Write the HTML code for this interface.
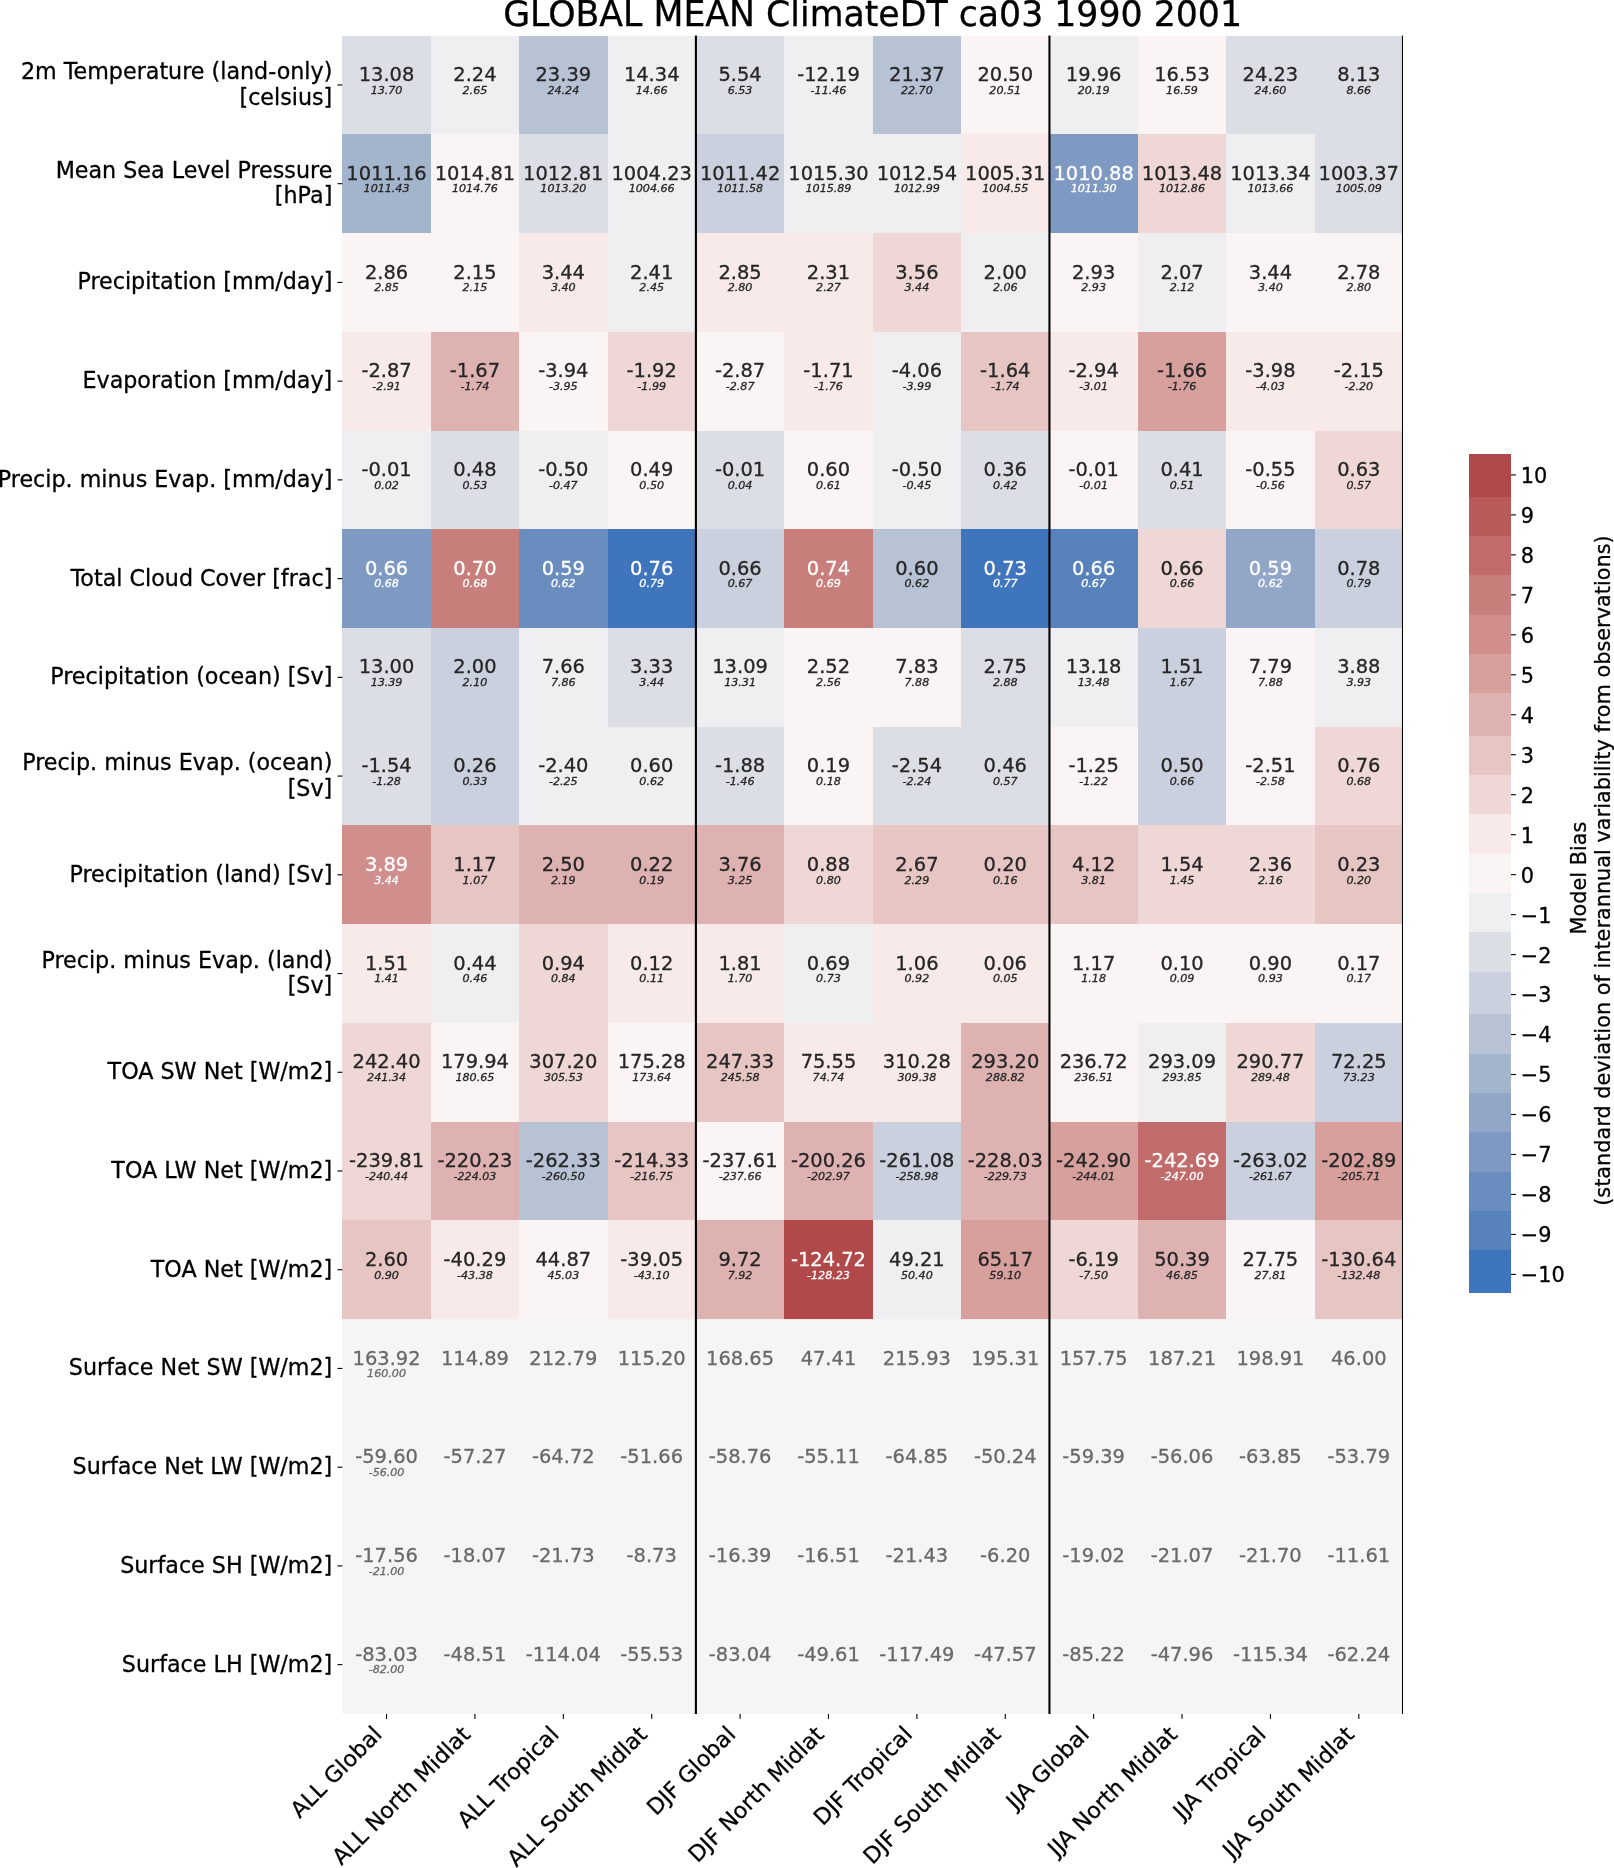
<!DOCTYPE html>
<html lang="en"><head><meta charset="utf-8"><title>GLOBAL MEAN ClimateDT ca03 1990 2001</title>
<style>html,body{margin:0;padding:0;background:#fff}body{width:1614px;height:1868px;overflow:hidden}svg{display:block;will-change:transform}text{font-family:"DejaVu Sans","Liberation Sans",sans-serif}.m{font-size:19.44px;text-anchor:middle}.o{font-size:11.11px;font-style:italic;text-anchor:middle}.d{fill:#262626;stroke:#262626}.w{fill:#fff;stroke:#fff}.g{fill:#696969;stroke:#696969}text{stroke-width:0.30px;stroke-linejoin:round}.yl,.xl,.cb,.cl,.t{stroke:#000}.yl{font-size:22.22px;text-anchor:end;fill:#000}.xl{font-size:22.22px;text-anchor:end;fill:#000}.cb{font-size:20.83px;fill:#000}.cl{font-size:20.83px;fill:#000;text-anchor:middle}.t{font-size:34.72px;text-anchor:middle;fill:#000}</style></head><body>
<svg width="1614" height="1868" viewBox="0 0 1614 1868">
<rect width="1614" height="1868" fill="#fff"/>
<rect x="342.35" y="35.60" width="1060.65" height="1678.40" fill="#f5f5f5"/>
<g shape-rendering="crispEdges">
<rect x="342.35" y="35.60" width="88.89" height="99.23" fill="#dcdee6"/>
<rect x="430.74" y="35.60" width="88.89" height="99.23" fill="#efeef1"/>
<rect x="519.12" y="35.60" width="88.89" height="99.23" fill="#b7c2d5"/>
<rect x="607.51" y="35.60" width="88.89" height="99.23" fill="#efeef1"/>
<rect x="695.90" y="35.60" width="88.89" height="99.23" fill="#dcdee6"/>
<rect x="784.29" y="35.60" width="88.89" height="99.23" fill="#efeef1"/>
<rect x="872.68" y="35.60" width="88.89" height="99.23" fill="#b7c2d5"/>
<rect x="961.06" y="35.60" width="88.89" height="99.23" fill="#faf5f4"/>
<rect x="1049.45" y="35.60" width="88.89" height="99.23" fill="#efeef1"/>
<rect x="1137.84" y="35.60" width="88.89" height="99.23" fill="#faf5f4"/>
<rect x="1226.22" y="35.60" width="88.89" height="99.23" fill="#dcdee6"/>
<rect x="1314.61" y="35.60" width="88.89" height="99.23" fill="#dcdee6"/>
<rect x="342.35" y="134.33" width="88.89" height="99.23" fill="#a3b4cd"/>
<rect x="430.74" y="134.33" width="88.89" height="99.23" fill="#faf5f4"/>
<rect x="519.12" y="134.33" width="88.89" height="99.23" fill="#dcdee6"/>
<rect x="607.51" y="134.33" width="88.89" height="99.23" fill="#efeef1"/>
<rect x="695.90" y="134.33" width="88.89" height="99.23" fill="#cad0dd"/>
<rect x="784.29" y="134.33" width="88.89" height="99.23" fill="#efeef1"/>
<rect x="872.68" y="134.33" width="88.89" height="99.23" fill="#efeef1"/>
<rect x="961.06" y="134.33" width="88.89" height="99.23" fill="#f7eae8"/>
<rect x="1049.45" y="134.33" width="88.89" height="99.23" fill="#7e9ac2"/>
<rect x="1137.84" y="134.33" width="88.89" height="99.23" fill="#eed7d5"/>
<rect x="1226.22" y="134.33" width="88.89" height="99.23" fill="#efeef1"/>
<rect x="1314.61" y="134.33" width="88.89" height="99.23" fill="#dcdee6"/>
<rect x="342.35" y="233.06" width="88.89" height="99.23" fill="#faf5f4"/>
<rect x="430.74" y="233.06" width="88.89" height="99.23" fill="#faf5f4"/>
<rect x="519.12" y="233.06" width="88.89" height="99.23" fill="#f7eae8"/>
<rect x="607.51" y="233.06" width="88.89" height="99.23" fill="#efeef1"/>
<rect x="695.90" y="233.06" width="88.89" height="99.23" fill="#f7eae8"/>
<rect x="784.29" y="233.06" width="88.89" height="99.23" fill="#f7eae8"/>
<rect x="872.68" y="233.06" width="88.89" height="99.23" fill="#eed7d5"/>
<rect x="961.06" y="233.06" width="88.89" height="99.23" fill="#efeef1"/>
<rect x="1049.45" y="233.06" width="88.89" height="99.23" fill="#faf5f4"/>
<rect x="1137.84" y="233.06" width="88.89" height="99.23" fill="#efeef1"/>
<rect x="1226.22" y="233.06" width="88.89" height="99.23" fill="#faf5f4"/>
<rect x="1314.61" y="233.06" width="88.89" height="99.23" fill="#faf5f4"/>
<rect x="342.35" y="331.79" width="88.89" height="99.23" fill="#f7eae8"/>
<rect x="430.74" y="331.79" width="88.89" height="99.23" fill="#deb2b0"/>
<rect x="519.12" y="331.79" width="88.89" height="99.23" fill="#faf5f4"/>
<rect x="607.51" y="331.79" width="88.89" height="99.23" fill="#eed7d5"/>
<rect x="695.90" y="331.79" width="88.89" height="99.23" fill="#faf5f4"/>
<rect x="784.29" y="331.79" width="88.89" height="99.23" fill="#f7eae8"/>
<rect x="872.68" y="331.79" width="88.89" height="99.23" fill="#efeef1"/>
<rect x="961.06" y="331.79" width="88.89" height="99.23" fill="#e6c5c3"/>
<rect x="1049.45" y="331.79" width="88.89" height="99.23" fill="#f7eae8"/>
<rect x="1137.84" y="331.79" width="88.89" height="99.23" fill="#d7a09d"/>
<rect x="1226.22" y="331.79" width="88.89" height="99.23" fill="#f7eae8"/>
<rect x="1314.61" y="331.79" width="88.89" height="99.23" fill="#f7eae8"/>
<rect x="342.35" y="430.52" width="88.89" height="99.23" fill="#efeef1"/>
<rect x="430.74" y="430.52" width="88.89" height="99.23" fill="#dcdee6"/>
<rect x="519.12" y="430.52" width="88.89" height="99.23" fill="#efeef1"/>
<rect x="607.51" y="430.52" width="88.89" height="99.23" fill="#faf5f4"/>
<rect x="695.90" y="430.52" width="88.89" height="99.23" fill="#dcdee6"/>
<rect x="784.29" y="430.52" width="88.89" height="99.23" fill="#faf5f4"/>
<rect x="872.68" y="430.52" width="88.89" height="99.23" fill="#efeef1"/>
<rect x="961.06" y="430.52" width="88.89" height="99.23" fill="#dcdee6"/>
<rect x="1049.45" y="430.52" width="88.89" height="99.23" fill="#faf5f4"/>
<rect x="1137.84" y="430.52" width="88.89" height="99.23" fill="#dcdee6"/>
<rect x="1226.22" y="430.52" width="88.89" height="99.23" fill="#faf5f4"/>
<rect x="1314.61" y="430.52" width="88.89" height="99.23" fill="#eed7d5"/>
<rect x="342.35" y="529.25" width="88.89" height="99.23" fill="#7e9ac2"/>
<rect x="430.74" y="529.25" width="88.89" height="99.23" fill="#c87e7b"/>
<rect x="519.12" y="529.25" width="88.89" height="99.23" fill="#6a8dbf"/>
<rect x="607.51" y="529.25" width="88.89" height="99.23" fill="#3f75bc"/>
<rect x="695.90" y="529.25" width="88.89" height="99.23" fill="#cad0dd"/>
<rect x="784.29" y="529.25" width="88.89" height="99.23" fill="#c87e7b"/>
<rect x="872.68" y="529.25" width="88.89" height="99.23" fill="#b7c2d5"/>
<rect x="961.06" y="529.25" width="88.89" height="99.23" fill="#3f75bc"/>
<rect x="1049.45" y="529.25" width="88.89" height="99.23" fill="#5782bc"/>
<rect x="1137.84" y="529.25" width="88.89" height="99.23" fill="#eed7d5"/>
<rect x="1226.22" y="529.25" width="88.89" height="99.23" fill="#92a7c8"/>
<rect x="1314.61" y="529.25" width="88.89" height="99.23" fill="#cad0dd"/>
<rect x="342.35" y="627.98" width="88.89" height="99.23" fill="#dcdee6"/>
<rect x="430.74" y="627.98" width="88.89" height="99.23" fill="#cad0dd"/>
<rect x="519.12" y="627.98" width="88.89" height="99.23" fill="#efeef1"/>
<rect x="607.51" y="627.98" width="88.89" height="99.23" fill="#dcdee6"/>
<rect x="695.90" y="627.98" width="88.89" height="99.23" fill="#efeef1"/>
<rect x="784.29" y="627.98" width="88.89" height="99.23" fill="#faf5f4"/>
<rect x="872.68" y="627.98" width="88.89" height="99.23" fill="#faf5f4"/>
<rect x="961.06" y="627.98" width="88.89" height="99.23" fill="#dcdee6"/>
<rect x="1049.45" y="627.98" width="88.89" height="99.23" fill="#efeef1"/>
<rect x="1137.84" y="627.98" width="88.89" height="99.23" fill="#cad0dd"/>
<rect x="1226.22" y="627.98" width="88.89" height="99.23" fill="#faf5f4"/>
<rect x="1314.61" y="627.98" width="88.89" height="99.23" fill="#efeef1"/>
<rect x="342.35" y="726.71" width="88.89" height="99.23" fill="#dcdee6"/>
<rect x="430.74" y="726.71" width="88.89" height="99.23" fill="#cad0dd"/>
<rect x="519.12" y="726.71" width="88.89" height="99.23" fill="#efeef1"/>
<rect x="607.51" y="726.71" width="88.89" height="99.23" fill="#efeef1"/>
<rect x="695.90" y="726.71" width="88.89" height="99.23" fill="#dcdee6"/>
<rect x="784.29" y="726.71" width="88.89" height="99.23" fill="#faf5f4"/>
<rect x="872.68" y="726.71" width="88.89" height="99.23" fill="#dcdee6"/>
<rect x="961.06" y="726.71" width="88.89" height="99.23" fill="#dcdee6"/>
<rect x="1049.45" y="726.71" width="88.89" height="99.23" fill="#faf5f4"/>
<rect x="1137.84" y="726.71" width="88.89" height="99.23" fill="#cad0dd"/>
<rect x="1226.22" y="726.71" width="88.89" height="99.23" fill="#faf5f4"/>
<rect x="1314.61" y="726.71" width="88.89" height="99.23" fill="#eed7d5"/>
<rect x="342.35" y="825.44" width="88.89" height="99.23" fill="#d08f8d"/>
<rect x="430.74" y="825.44" width="88.89" height="99.23" fill="#e6c5c3"/>
<rect x="519.12" y="825.44" width="88.89" height="99.23" fill="#deb2b0"/>
<rect x="607.51" y="825.44" width="88.89" height="99.23" fill="#deb2b0"/>
<rect x="695.90" y="825.44" width="88.89" height="99.23" fill="#deb2b0"/>
<rect x="784.29" y="825.44" width="88.89" height="99.23" fill="#eed7d5"/>
<rect x="872.68" y="825.44" width="88.89" height="99.23" fill="#e6c5c3"/>
<rect x="961.06" y="825.44" width="88.89" height="99.23" fill="#e6c5c3"/>
<rect x="1049.45" y="825.44" width="88.89" height="99.23" fill="#e6c5c3"/>
<rect x="1137.84" y="825.44" width="88.89" height="99.23" fill="#eed7d5"/>
<rect x="1226.22" y="825.44" width="88.89" height="99.23" fill="#eed7d5"/>
<rect x="1314.61" y="825.44" width="88.89" height="99.23" fill="#e6c5c3"/>
<rect x="342.35" y="924.16" width="88.89" height="99.23" fill="#f7eae8"/>
<rect x="430.74" y="924.16" width="88.89" height="99.23" fill="#efeef1"/>
<rect x="519.12" y="924.16" width="88.89" height="99.23" fill="#eed7d5"/>
<rect x="607.51" y="924.16" width="88.89" height="99.23" fill="#f7eae8"/>
<rect x="695.90" y="924.16" width="88.89" height="99.23" fill="#f7eae8"/>
<rect x="784.29" y="924.16" width="88.89" height="99.23" fill="#efeef1"/>
<rect x="872.68" y="924.16" width="88.89" height="99.23" fill="#f7eae8"/>
<rect x="961.06" y="924.16" width="88.89" height="99.23" fill="#f7eae8"/>
<rect x="1049.45" y="924.16" width="88.89" height="99.23" fill="#faf5f4"/>
<rect x="1137.84" y="924.16" width="88.89" height="99.23" fill="#faf5f4"/>
<rect x="1226.22" y="924.16" width="88.89" height="99.23" fill="#faf5f4"/>
<rect x="1314.61" y="924.16" width="88.89" height="99.23" fill="#faf5f4"/>
<rect x="342.35" y="1022.89" width="88.89" height="99.23" fill="#eed7d5"/>
<rect x="430.74" y="1022.89" width="88.89" height="99.23" fill="#faf5f4"/>
<rect x="519.12" y="1022.89" width="88.89" height="99.23" fill="#eed7d5"/>
<rect x="607.51" y="1022.89" width="88.89" height="99.23" fill="#faf5f4"/>
<rect x="695.90" y="1022.89" width="88.89" height="99.23" fill="#e6c5c3"/>
<rect x="784.29" y="1022.89" width="88.89" height="99.23" fill="#f7eae8"/>
<rect x="872.68" y="1022.89" width="88.89" height="99.23" fill="#f7eae8"/>
<rect x="961.06" y="1022.89" width="88.89" height="99.23" fill="#deb2b0"/>
<rect x="1049.45" y="1022.89" width="88.89" height="99.23" fill="#faf5f4"/>
<rect x="1137.84" y="1022.89" width="88.89" height="99.23" fill="#efeef1"/>
<rect x="1226.22" y="1022.89" width="88.89" height="99.23" fill="#eed7d5"/>
<rect x="1314.61" y="1022.89" width="88.89" height="99.23" fill="#cad0dd"/>
<rect x="342.35" y="1121.62" width="88.89" height="99.23" fill="#eed7d5"/>
<rect x="430.74" y="1121.62" width="88.89" height="99.23" fill="#deb2b0"/>
<rect x="519.12" y="1121.62" width="88.89" height="99.23" fill="#b7c2d5"/>
<rect x="607.51" y="1121.62" width="88.89" height="99.23" fill="#e6c5c3"/>
<rect x="695.90" y="1121.62" width="88.89" height="99.23" fill="#faf5f4"/>
<rect x="784.29" y="1121.62" width="88.89" height="99.23" fill="#deb2b0"/>
<rect x="872.68" y="1121.62" width="88.89" height="99.23" fill="#cad0dd"/>
<rect x="961.06" y="1121.62" width="88.89" height="99.23" fill="#deb2b0"/>
<rect x="1049.45" y="1121.62" width="88.89" height="99.23" fill="#d7a09d"/>
<rect x="1137.84" y="1121.62" width="88.89" height="99.23" fill="#c16c6a"/>
<rect x="1226.22" y="1121.62" width="88.89" height="99.23" fill="#cad0dd"/>
<rect x="1314.61" y="1121.62" width="88.89" height="99.23" fill="#d7a09d"/>
<rect x="342.35" y="1220.35" width="88.89" height="99.23" fill="#e6c5c3"/>
<rect x="430.74" y="1220.35" width="88.89" height="99.23" fill="#f7eae8"/>
<rect x="519.12" y="1220.35" width="88.89" height="99.23" fill="#faf5f4"/>
<rect x="607.51" y="1220.35" width="88.89" height="99.23" fill="#f7eae8"/>
<rect x="695.90" y="1220.35" width="88.89" height="99.23" fill="#deb2b0"/>
<rect x="784.29" y="1220.35" width="88.89" height="99.23" fill="#b1494a"/>
<rect x="872.68" y="1220.35" width="88.89" height="99.23" fill="#efeef1"/>
<rect x="961.06" y="1220.35" width="88.89" height="99.23" fill="#d7a09d"/>
<rect x="1049.45" y="1220.35" width="88.89" height="99.23" fill="#eed7d5"/>
<rect x="1137.84" y="1220.35" width="88.89" height="99.23" fill="#deb2b0"/>
<rect x="1226.22" y="1220.35" width="88.89" height="99.23" fill="#faf5f4"/>
<rect x="1314.61" y="1220.35" width="88.89" height="99.23" fill="#e6c5c3"/>
</g>
<rect x="342.35" y="1319.08" width="1060.65" height="1.00" fill="#f5f5f5"/>
<rect x="1403.00" y="34.60" width="3" height="1680.40" fill="#fff"/>
<text class="m d" x="386.54" y="81.06">13.08</text>
<text class="o d" x="386.54" y="93.76">13.70</text>
<text class="m d" x="474.93" y="81.06">2.24</text>
<text class="o d" x="474.93" y="93.76">2.65</text>
<text class="m d" x="563.32" y="81.06">23.39</text>
<text class="o d" x="563.32" y="93.76">24.24</text>
<text class="m d" x="651.71" y="81.06">14.34</text>
<text class="o d" x="651.71" y="93.76">14.66</text>
<text class="m d" x="740.09" y="81.06">5.54</text>
<text class="o d" x="740.09" y="93.76">6.53</text>
<text class="m d" x="828.48" y="81.06">-12.19</text>
<text class="o d" x="828.48" y="93.76">-11.46</text>
<text class="m d" x="916.87" y="81.06">21.37</text>
<text class="o d" x="916.87" y="93.76">22.70</text>
<text class="m d" x="1005.26" y="81.06">20.50</text>
<text class="o d" x="1005.26" y="93.76">20.51</text>
<text class="m d" x="1093.64" y="81.06">19.96</text>
<text class="o d" x="1093.64" y="93.76">20.19</text>
<text class="m d" x="1182.03" y="81.06">16.53</text>
<text class="o d" x="1182.03" y="93.76">16.59</text>
<text class="m d" x="1270.42" y="81.06">24.23</text>
<text class="o d" x="1270.42" y="93.76">24.60</text>
<text class="m d" x="1358.81" y="81.06">8.13</text>
<text class="o d" x="1358.81" y="93.76">8.66</text>
<text class="m d" x="386.54" y="179.79">1011.16</text>
<text class="o d" x="386.54" y="192.49">1011.43</text>
<text class="m d" x="474.93" y="179.79">1014.81</text>
<text class="o d" x="474.93" y="192.49">1014.76</text>
<text class="m d" x="563.32" y="179.79">1012.81</text>
<text class="o d" x="563.32" y="192.49">1013.20</text>
<text class="m d" x="651.71" y="179.79">1004.23</text>
<text class="o d" x="651.71" y="192.49">1004.66</text>
<text class="m d" x="740.09" y="179.79">1011.42</text>
<text class="o d" x="740.09" y="192.49">1011.58</text>
<text class="m d" x="828.48" y="179.79">1015.30</text>
<text class="o d" x="828.48" y="192.49">1015.89</text>
<text class="m d" x="916.87" y="179.79">1012.54</text>
<text class="o d" x="916.87" y="192.49">1012.99</text>
<text class="m d" x="1005.26" y="179.79">1005.31</text>
<text class="o d" x="1005.26" y="192.49">1004.55</text>
<text class="m w" x="1093.64" y="179.79">1010.88</text>
<text class="o w" x="1093.64" y="192.49">1011.30</text>
<text class="m d" x="1182.03" y="179.79">1013.48</text>
<text class="o d" x="1182.03" y="192.49">1012.86</text>
<text class="m d" x="1270.42" y="179.79">1013.34</text>
<text class="o d" x="1270.42" y="192.49">1013.66</text>
<text class="m d" x="1358.81" y="179.79">1003.37</text>
<text class="o d" x="1358.81" y="192.49">1005.09</text>
<text class="m d" x="386.54" y="278.52">2.86</text>
<text class="o d" x="386.54" y="291.22">2.85</text>
<text class="m d" x="474.93" y="278.52">2.15</text>
<text class="o d" x="474.93" y="291.22">2.15</text>
<text class="m d" x="563.32" y="278.52">3.44</text>
<text class="o d" x="563.32" y="291.22">3.40</text>
<text class="m d" x="651.71" y="278.52">2.41</text>
<text class="o d" x="651.71" y="291.22">2.45</text>
<text class="m d" x="740.09" y="278.52">2.85</text>
<text class="o d" x="740.09" y="291.22">2.80</text>
<text class="m d" x="828.48" y="278.52">2.31</text>
<text class="o d" x="828.48" y="291.22">2.27</text>
<text class="m d" x="916.87" y="278.52">3.56</text>
<text class="o d" x="916.87" y="291.22">3.44</text>
<text class="m d" x="1005.26" y="278.52">2.00</text>
<text class="o d" x="1005.26" y="291.22">2.06</text>
<text class="m d" x="1093.64" y="278.52">2.93</text>
<text class="o d" x="1093.64" y="291.22">2.93</text>
<text class="m d" x="1182.03" y="278.52">2.07</text>
<text class="o d" x="1182.03" y="291.22">2.12</text>
<text class="m d" x="1270.42" y="278.52">3.44</text>
<text class="o d" x="1270.42" y="291.22">3.40</text>
<text class="m d" x="1358.81" y="278.52">2.78</text>
<text class="o d" x="1358.81" y="291.22">2.80</text>
<text class="m d" x="386.54" y="377.25">-2.87</text>
<text class="o d" x="386.54" y="389.95">-2.91</text>
<text class="m d" x="474.93" y="377.25">-1.67</text>
<text class="o d" x="474.93" y="389.95">-1.74</text>
<text class="m d" x="563.32" y="377.25">-3.94</text>
<text class="o d" x="563.32" y="389.95">-3.95</text>
<text class="m d" x="651.71" y="377.25">-1.92</text>
<text class="o d" x="651.71" y="389.95">-1.99</text>
<text class="m d" x="740.09" y="377.25">-2.87</text>
<text class="o d" x="740.09" y="389.95">-2.87</text>
<text class="m d" x="828.48" y="377.25">-1.71</text>
<text class="o d" x="828.48" y="389.95">-1.76</text>
<text class="m d" x="916.87" y="377.25">-4.06</text>
<text class="o d" x="916.87" y="389.95">-3.99</text>
<text class="m d" x="1005.26" y="377.25">-1.64</text>
<text class="o d" x="1005.26" y="389.95">-1.74</text>
<text class="m d" x="1093.64" y="377.25">-2.94</text>
<text class="o d" x="1093.64" y="389.95">-3.01</text>
<text class="m d" x="1182.03" y="377.25">-1.66</text>
<text class="o d" x="1182.03" y="389.95">-1.76</text>
<text class="m d" x="1270.42" y="377.25">-3.98</text>
<text class="o d" x="1270.42" y="389.95">-4.03</text>
<text class="m d" x="1358.81" y="377.25">-2.15</text>
<text class="o d" x="1358.81" y="389.95">-2.20</text>
<text class="m d" x="386.54" y="475.98">-0.01</text>
<text class="o d" x="386.54" y="488.68">0.02</text>
<text class="m d" x="474.93" y="475.98">0.48</text>
<text class="o d" x="474.93" y="488.68">0.53</text>
<text class="m d" x="563.32" y="475.98">-0.50</text>
<text class="o d" x="563.32" y="488.68">-0.47</text>
<text class="m d" x="651.71" y="475.98">0.49</text>
<text class="o d" x="651.71" y="488.68">0.50</text>
<text class="m d" x="740.09" y="475.98">-0.01</text>
<text class="o d" x="740.09" y="488.68">0.04</text>
<text class="m d" x="828.48" y="475.98">0.60</text>
<text class="o d" x="828.48" y="488.68">0.61</text>
<text class="m d" x="916.87" y="475.98">-0.50</text>
<text class="o d" x="916.87" y="488.68">-0.45</text>
<text class="m d" x="1005.26" y="475.98">0.36</text>
<text class="o d" x="1005.26" y="488.68">0.42</text>
<text class="m d" x="1093.64" y="475.98">-0.01</text>
<text class="o d" x="1093.64" y="488.68">-0.01</text>
<text class="m d" x="1182.03" y="475.98">0.41</text>
<text class="o d" x="1182.03" y="488.68">0.51</text>
<text class="m d" x="1270.42" y="475.98">-0.55</text>
<text class="o d" x="1270.42" y="488.68">-0.56</text>
<text class="m d" x="1358.81" y="475.98">0.63</text>
<text class="o d" x="1358.81" y="488.68">0.57</text>
<text class="m w" x="386.54" y="574.71">0.66</text>
<text class="o w" x="386.54" y="587.41">0.68</text>
<text class="m w" x="474.93" y="574.71">0.70</text>
<text class="o w" x="474.93" y="587.41">0.68</text>
<text class="m w" x="563.32" y="574.71">0.59</text>
<text class="o w" x="563.32" y="587.41">0.62</text>
<text class="m w" x="651.71" y="574.71">0.76</text>
<text class="o w" x="651.71" y="587.41">0.79</text>
<text class="m d" x="740.09" y="574.71">0.66</text>
<text class="o d" x="740.09" y="587.41">0.67</text>
<text class="m w" x="828.48" y="574.71">0.74</text>
<text class="o w" x="828.48" y="587.41">0.69</text>
<text class="m d" x="916.87" y="574.71">0.60</text>
<text class="o d" x="916.87" y="587.41">0.62</text>
<text class="m w" x="1005.26" y="574.71">0.73</text>
<text class="o w" x="1005.26" y="587.41">0.77</text>
<text class="m w" x="1093.64" y="574.71">0.66</text>
<text class="o w" x="1093.64" y="587.41">0.67</text>
<text class="m d" x="1182.03" y="574.71">0.66</text>
<text class="o d" x="1182.03" y="587.41">0.66</text>
<text class="m w" x="1270.42" y="574.71">0.59</text>
<text class="o w" x="1270.42" y="587.41">0.62</text>
<text class="m d" x="1358.81" y="574.71">0.78</text>
<text class="o d" x="1358.81" y="587.41">0.79</text>
<text class="m d" x="386.54" y="673.44">13.00</text>
<text class="o d" x="386.54" y="686.14">13.39</text>
<text class="m d" x="474.93" y="673.44">2.00</text>
<text class="o d" x="474.93" y="686.14">2.10</text>
<text class="m d" x="563.32" y="673.44">7.66</text>
<text class="o d" x="563.32" y="686.14">7.86</text>
<text class="m d" x="651.71" y="673.44">3.33</text>
<text class="o d" x="651.71" y="686.14">3.44</text>
<text class="m d" x="740.09" y="673.44">13.09</text>
<text class="o d" x="740.09" y="686.14">13.31</text>
<text class="m d" x="828.48" y="673.44">2.52</text>
<text class="o d" x="828.48" y="686.14">2.56</text>
<text class="m d" x="916.87" y="673.44">7.83</text>
<text class="o d" x="916.87" y="686.14">7.88</text>
<text class="m d" x="1005.26" y="673.44">2.75</text>
<text class="o d" x="1005.26" y="686.14">2.88</text>
<text class="m d" x="1093.64" y="673.44">13.18</text>
<text class="o d" x="1093.64" y="686.14">13.48</text>
<text class="m d" x="1182.03" y="673.44">1.51</text>
<text class="o d" x="1182.03" y="686.14">1.67</text>
<text class="m d" x="1270.42" y="673.44">7.79</text>
<text class="o d" x="1270.42" y="686.14">7.88</text>
<text class="m d" x="1358.81" y="673.44">3.88</text>
<text class="o d" x="1358.81" y="686.14">3.93</text>
<text class="m d" x="386.54" y="772.17">-1.54</text>
<text class="o d" x="386.54" y="784.87">-1.28</text>
<text class="m d" x="474.93" y="772.17">0.26</text>
<text class="o d" x="474.93" y="784.87">0.33</text>
<text class="m d" x="563.32" y="772.17">-2.40</text>
<text class="o d" x="563.32" y="784.87">-2.25</text>
<text class="m d" x="651.71" y="772.17">0.60</text>
<text class="o d" x="651.71" y="784.87">0.62</text>
<text class="m d" x="740.09" y="772.17">-1.88</text>
<text class="o d" x="740.09" y="784.87">-1.46</text>
<text class="m d" x="828.48" y="772.17">0.19</text>
<text class="o d" x="828.48" y="784.87">0.18</text>
<text class="m d" x="916.87" y="772.17">-2.54</text>
<text class="o d" x="916.87" y="784.87">-2.24</text>
<text class="m d" x="1005.26" y="772.17">0.46</text>
<text class="o d" x="1005.26" y="784.87">0.57</text>
<text class="m d" x="1093.64" y="772.17">-1.25</text>
<text class="o d" x="1093.64" y="784.87">-1.22</text>
<text class="m d" x="1182.03" y="772.17">0.50</text>
<text class="o d" x="1182.03" y="784.87">0.66</text>
<text class="m d" x="1270.42" y="772.17">-2.51</text>
<text class="o d" x="1270.42" y="784.87">-2.58</text>
<text class="m d" x="1358.81" y="772.17">0.76</text>
<text class="o d" x="1358.81" y="784.87">0.68</text>
<text class="m w" x="386.54" y="870.90">3.89</text>
<text class="o w" x="386.54" y="883.60">3.44</text>
<text class="m d" x="474.93" y="870.90">1.17</text>
<text class="o d" x="474.93" y="883.60">1.07</text>
<text class="m d" x="563.32" y="870.90">2.50</text>
<text class="o d" x="563.32" y="883.60">2.19</text>
<text class="m d" x="651.71" y="870.90">0.22</text>
<text class="o d" x="651.71" y="883.60">0.19</text>
<text class="m d" x="740.09" y="870.90">3.76</text>
<text class="o d" x="740.09" y="883.60">3.25</text>
<text class="m d" x="828.48" y="870.90">0.88</text>
<text class="o d" x="828.48" y="883.60">0.80</text>
<text class="m d" x="916.87" y="870.90">2.67</text>
<text class="o d" x="916.87" y="883.60">2.29</text>
<text class="m d" x="1005.26" y="870.90">0.20</text>
<text class="o d" x="1005.26" y="883.60">0.16</text>
<text class="m d" x="1093.64" y="870.90">4.12</text>
<text class="o d" x="1093.64" y="883.60">3.81</text>
<text class="m d" x="1182.03" y="870.90">1.54</text>
<text class="o d" x="1182.03" y="883.60">1.45</text>
<text class="m d" x="1270.42" y="870.90">2.36</text>
<text class="o d" x="1270.42" y="883.60">2.16</text>
<text class="m d" x="1358.81" y="870.90">0.23</text>
<text class="o d" x="1358.81" y="883.60">0.20</text>
<text class="m d" x="386.54" y="969.63">1.51</text>
<text class="o d" x="386.54" y="982.33">1.41</text>
<text class="m d" x="474.93" y="969.63">0.44</text>
<text class="o d" x="474.93" y="982.33">0.46</text>
<text class="m d" x="563.32" y="969.63">0.94</text>
<text class="o d" x="563.32" y="982.33">0.84</text>
<text class="m d" x="651.71" y="969.63">0.12</text>
<text class="o d" x="651.71" y="982.33">0.11</text>
<text class="m d" x="740.09" y="969.63">1.81</text>
<text class="o d" x="740.09" y="982.33">1.70</text>
<text class="m d" x="828.48" y="969.63">0.69</text>
<text class="o d" x="828.48" y="982.33">0.73</text>
<text class="m d" x="916.87" y="969.63">1.06</text>
<text class="o d" x="916.87" y="982.33">0.92</text>
<text class="m d" x="1005.26" y="969.63">0.06</text>
<text class="o d" x="1005.26" y="982.33">0.05</text>
<text class="m d" x="1093.64" y="969.63">1.17</text>
<text class="o d" x="1093.64" y="982.33">1.18</text>
<text class="m d" x="1182.03" y="969.63">0.10</text>
<text class="o d" x="1182.03" y="982.33">0.09</text>
<text class="m d" x="1270.42" y="969.63">0.90</text>
<text class="o d" x="1270.42" y="982.33">0.93</text>
<text class="m d" x="1358.81" y="969.63">0.17</text>
<text class="o d" x="1358.81" y="982.33">0.17</text>
<text class="m d" x="386.54" y="1068.36">242.40</text>
<text class="o d" x="386.54" y="1081.06">241.34</text>
<text class="m d" x="474.93" y="1068.36">179.94</text>
<text class="o d" x="474.93" y="1081.06">180.65</text>
<text class="m d" x="563.32" y="1068.36">307.20</text>
<text class="o d" x="563.32" y="1081.06">305.53</text>
<text class="m d" x="651.71" y="1068.36">175.28</text>
<text class="o d" x="651.71" y="1081.06">173.64</text>
<text class="m d" x="740.09" y="1068.36">247.33</text>
<text class="o d" x="740.09" y="1081.06">245.58</text>
<text class="m d" x="828.48" y="1068.36">75.55</text>
<text class="o d" x="828.48" y="1081.06">74.74</text>
<text class="m d" x="916.87" y="1068.36">310.28</text>
<text class="o d" x="916.87" y="1081.06">309.38</text>
<text class="m d" x="1005.26" y="1068.36">293.20</text>
<text class="o d" x="1005.26" y="1081.06">288.82</text>
<text class="m d" x="1093.64" y="1068.36">236.72</text>
<text class="o d" x="1093.64" y="1081.06">236.51</text>
<text class="m d" x="1182.03" y="1068.36">293.09</text>
<text class="o d" x="1182.03" y="1081.06">293.85</text>
<text class="m d" x="1270.42" y="1068.36">290.77</text>
<text class="o d" x="1270.42" y="1081.06">289.48</text>
<text class="m d" x="1358.81" y="1068.36">72.25</text>
<text class="o d" x="1358.81" y="1081.06">73.23</text>
<text class="m d" x="386.54" y="1167.09">-239.81</text>
<text class="o d" x="386.54" y="1179.79">-240.44</text>
<text class="m d" x="474.93" y="1167.09">-220.23</text>
<text class="o d" x="474.93" y="1179.79">-224.03</text>
<text class="m d" x="563.32" y="1167.09">-262.33</text>
<text class="o d" x="563.32" y="1179.79">-260.50</text>
<text class="m d" x="651.71" y="1167.09">-214.33</text>
<text class="o d" x="651.71" y="1179.79">-216.75</text>
<text class="m d" x="740.09" y="1167.09">-237.61</text>
<text class="o d" x="740.09" y="1179.79">-237.66</text>
<text class="m d" x="828.48" y="1167.09">-200.26</text>
<text class="o d" x="828.48" y="1179.79">-202.97</text>
<text class="m d" x="916.87" y="1167.09">-261.08</text>
<text class="o d" x="916.87" y="1179.79">-258.98</text>
<text class="m d" x="1005.26" y="1167.09">-228.03</text>
<text class="o d" x="1005.26" y="1179.79">-229.73</text>
<text class="m d" x="1093.64" y="1167.09">-242.90</text>
<text class="o d" x="1093.64" y="1179.79">-244.01</text>
<text class="m w" x="1182.03" y="1167.09">-242.69</text>
<text class="o w" x="1182.03" y="1179.79">-247.00</text>
<text class="m d" x="1270.42" y="1167.09">-263.02</text>
<text class="o d" x="1270.42" y="1179.79">-261.67</text>
<text class="m d" x="1358.81" y="1167.09">-202.89</text>
<text class="o d" x="1358.81" y="1179.79">-205.71</text>
<text class="m d" x="386.54" y="1265.82">2.60</text>
<text class="o d" x="386.54" y="1278.52">0.90</text>
<text class="m d" x="474.93" y="1265.82">-40.29</text>
<text class="o d" x="474.93" y="1278.52">-43.38</text>
<text class="m d" x="563.32" y="1265.82">44.87</text>
<text class="o d" x="563.32" y="1278.52">45.03</text>
<text class="m d" x="651.71" y="1265.82">-39.05</text>
<text class="o d" x="651.71" y="1278.52">-43.10</text>
<text class="m d" x="740.09" y="1265.82">9.72</text>
<text class="o d" x="740.09" y="1278.52">7.92</text>
<text class="m w" x="828.48" y="1265.82">-124.72</text>
<text class="o w" x="828.48" y="1278.52">-128.23</text>
<text class="m d" x="916.87" y="1265.82">49.21</text>
<text class="o d" x="916.87" y="1278.52">50.40</text>
<text class="m d" x="1005.26" y="1265.82">65.17</text>
<text class="o d" x="1005.26" y="1278.52">59.10</text>
<text class="m d" x="1093.64" y="1265.82">-6.19</text>
<text class="o d" x="1093.64" y="1278.52">-7.50</text>
<text class="m d" x="1182.03" y="1265.82">50.39</text>
<text class="o d" x="1182.03" y="1278.52">46.85</text>
<text class="m d" x="1270.42" y="1265.82">27.75</text>
<text class="o d" x="1270.42" y="1278.52">27.81</text>
<text class="m d" x="1358.81" y="1265.82">-130.64</text>
<text class="o d" x="1358.81" y="1278.52">-132.48</text>
<text class="m g" x="386.54" y="1364.55">163.92</text>
<text class="o g" x="386.54" y="1377.25">160.00</text>
<text class="m g" x="474.93" y="1364.55">114.89</text>
<text class="m g" x="563.32" y="1364.55">212.79</text>
<text class="m g" x="651.71" y="1364.55">115.20</text>
<text class="m g" x="740.09" y="1364.55">168.65</text>
<text class="m g" x="828.48" y="1364.55">47.41</text>
<text class="m g" x="916.87" y="1364.55">215.93</text>
<text class="m g" x="1005.26" y="1364.55">195.31</text>
<text class="m g" x="1093.64" y="1364.55">157.75</text>
<text class="m g" x="1182.03" y="1364.55">187.21</text>
<text class="m g" x="1270.42" y="1364.55">198.91</text>
<text class="m g" x="1358.81" y="1364.55">46.00</text>
<text class="m g" x="386.54" y="1463.28">-59.60</text>
<text class="o g" x="386.54" y="1475.98">-56.00</text>
<text class="m g" x="474.93" y="1463.28">-57.27</text>
<text class="m g" x="563.32" y="1463.28">-64.72</text>
<text class="m g" x="651.71" y="1463.28">-51.66</text>
<text class="m g" x="740.09" y="1463.28">-58.76</text>
<text class="m g" x="828.48" y="1463.28">-55.11</text>
<text class="m g" x="916.87" y="1463.28">-64.85</text>
<text class="m g" x="1005.26" y="1463.28">-50.24</text>
<text class="m g" x="1093.64" y="1463.28">-59.39</text>
<text class="m g" x="1182.03" y="1463.28">-56.06</text>
<text class="m g" x="1270.42" y="1463.28">-63.85</text>
<text class="m g" x="1358.81" y="1463.28">-53.79</text>
<text class="m g" x="386.54" y="1562.01">-17.56</text>
<text class="o g" x="386.54" y="1574.71">-21.00</text>
<text class="m g" x="474.93" y="1562.01">-18.07</text>
<text class="m g" x="563.32" y="1562.01">-21.73</text>
<text class="m g" x="651.71" y="1562.01">-8.73</text>
<text class="m g" x="740.09" y="1562.01">-16.39</text>
<text class="m g" x="828.48" y="1562.01">-16.51</text>
<text class="m g" x="916.87" y="1562.01">-21.43</text>
<text class="m g" x="1005.26" y="1562.01">-6.20</text>
<text class="m g" x="1093.64" y="1562.01">-19.02</text>
<text class="m g" x="1182.03" y="1562.01">-21.07</text>
<text class="m g" x="1270.42" y="1562.01">-21.70</text>
<text class="m g" x="1358.81" y="1562.01">-11.61</text>
<text class="m g" x="386.54" y="1660.74">-83.03</text>
<text class="o g" x="386.54" y="1673.44">-82.00</text>
<text class="m g" x="474.93" y="1660.74">-48.51</text>
<text class="m g" x="563.32" y="1660.74">-114.04</text>
<text class="m g" x="651.71" y="1660.74">-55.53</text>
<text class="m g" x="740.09" y="1660.74">-83.04</text>
<text class="m g" x="828.48" y="1660.74">-49.61</text>
<text class="m g" x="916.87" y="1660.74">-117.49</text>
<text class="m g" x="1005.26" y="1660.74">-47.57</text>
<text class="m g" x="1093.64" y="1660.74">-85.22</text>
<text class="m g" x="1182.03" y="1660.74">-47.96</text>
<text class="m g" x="1270.42" y="1660.74">-115.34</text>
<text class="m g" x="1358.81" y="1660.74">-62.24</text>
<rect x="694.86" y="35.60" width="2.08" height="1678.40" fill="#000"/>
<rect x="1048.41" y="35.60" width="2.08" height="1678.40" fill="#000"/>
<rect x="1401.96" y="35.60" width="1.04" height="1678.40" fill="#000"/>
<rect x="337.49" y="84.41" width="4.86" height="1.11" fill="#000"/>
<text class="yl" x="332.30" y="79.26">2m Temperature (land-only)</text>
<text class="yl" x="332.30" y="104.66">[celsius]</text>
<rect x="337.49" y="183.14" width="4.86" height="1.11" fill="#000"/>
<text class="yl" x="332.30" y="177.99">Mean Sea Level Pressure</text>
<text class="yl" x="332.30" y="203.39">[hPa]</text>
<rect x="337.49" y="281.87" width="4.86" height="1.11" fill="#000"/>
<text class="yl" x="332.30" y="289.42">Precipitation [mm/day]</text>
<rect x="337.49" y="380.60" width="4.86" height="1.11" fill="#000"/>
<text class="yl" x="332.30" y="388.15">Evaporation [mm/day]</text>
<rect x="337.49" y="479.33" width="4.86" height="1.11" fill="#000"/>
<text class="yl" x="332.30" y="486.88">Precip. minus Evap. [mm/day]</text>
<rect x="337.49" y="578.06" width="4.86" height="1.11" fill="#000"/>
<text class="yl" x="332.30" y="585.61">Total Cloud Cover [frac]</text>
<rect x="337.49" y="676.79" width="4.86" height="1.11" fill="#000"/>
<text class="yl" x="332.30" y="684.34">Precipitation (ocean) [Sv]</text>
<rect x="337.49" y="775.52" width="4.86" height="1.11" fill="#000"/>
<text class="yl" x="332.30" y="770.37">Precip. minus Evap. (ocean)</text>
<text class="yl" x="332.30" y="795.77">[Sv]</text>
<rect x="337.49" y="874.25" width="4.86" height="1.11" fill="#000"/>
<text class="yl" x="332.30" y="881.80">Precipitation (land) [Sv]</text>
<rect x="337.49" y="972.98" width="4.86" height="1.11" fill="#000"/>
<text class="yl" x="332.30" y="967.83">Precip. minus Evap. (land)</text>
<text class="yl" x="332.30" y="993.23">[Sv]</text>
<rect x="337.49" y="1071.71" width="4.86" height="1.11" fill="#000"/>
<text class="yl" x="332.30" y="1079.26">TOA SW Net [W/m2]</text>
<rect x="337.49" y="1170.44" width="4.86" height="1.11" fill="#000"/>
<text class="yl" x="332.30" y="1177.99">TOA LW Net [W/m2]</text>
<rect x="337.49" y="1269.17" width="4.86" height="1.11" fill="#000"/>
<text class="yl" x="332.30" y="1276.72">TOA Net [W/m2]</text>
<rect x="337.49" y="1367.90" width="4.86" height="1.11" fill="#000"/>
<text class="yl" x="332.30" y="1375.45">Surface Net SW [W/m2]</text>
<rect x="337.49" y="1466.63" width="4.86" height="1.11" fill="#000"/>
<text class="yl" x="332.30" y="1474.18">Surface Net LW [W/m2]</text>
<rect x="337.49" y="1565.36" width="4.86" height="1.11" fill="#000"/>
<text class="yl" x="332.30" y="1572.91">Surface SH [W/m2]</text>
<rect x="337.49" y="1664.09" width="4.86" height="1.11" fill="#000"/>
<text class="yl" x="332.30" y="1671.64">Surface LH [W/m2]</text>
<rect x="385.99" y="1714.00" width="1.11" height="4.86" fill="#000"/>
<text class="xl" transform="translate(383.24 1735.72) rotate(-45)" x="0" y="0">ALL Global</text>
<rect x="474.38" y="1714.00" width="1.11" height="4.86" fill="#000"/>
<text class="xl" transform="translate(471.63 1735.72) rotate(-45)" x="0" y="0">ALL North Midlat</text>
<rect x="562.77" y="1714.00" width="1.11" height="4.86" fill="#000"/>
<text class="xl" transform="translate(560.02 1735.72) rotate(-45)" x="0" y="0">ALL Tropical</text>
<rect x="651.16" y="1714.00" width="1.11" height="4.86" fill="#000"/>
<text class="xl" transform="translate(648.41 1735.72) rotate(-45)" x="0" y="0">ALL South Midlat</text>
<rect x="739.54" y="1714.00" width="1.11" height="4.86" fill="#000"/>
<text class="xl" transform="translate(736.79 1735.72) rotate(-45)" x="0" y="0">DJF Global</text>
<rect x="827.93" y="1714.00" width="1.11" height="4.86" fill="#000"/>
<text class="xl" transform="translate(825.18 1735.72) rotate(-45)" x="0" y="0">DJF North Midlat</text>
<rect x="916.32" y="1714.00" width="1.11" height="4.86" fill="#000"/>
<text class="xl" transform="translate(913.57 1735.72) rotate(-45)" x="0" y="0">DJF Tropical</text>
<rect x="1004.71" y="1714.00" width="1.11" height="4.86" fill="#000"/>
<text class="xl" transform="translate(1001.96 1735.72) rotate(-45)" x="0" y="0">DJF South Midlat</text>
<rect x="1093.09" y="1714.00" width="1.11" height="4.86" fill="#000"/>
<text class="xl" transform="translate(1090.34 1735.72) rotate(-45)" x="0" y="0">JJA Global</text>
<rect x="1181.48" y="1714.00" width="1.11" height="4.86" fill="#000"/>
<text class="xl" transform="translate(1178.73 1735.72) rotate(-45)" x="0" y="0">JJA North Midlat</text>
<rect x="1269.87" y="1714.00" width="1.11" height="4.86" fill="#000"/>
<text class="xl" transform="translate(1267.12 1735.72) rotate(-45)" x="0" y="0">JJA Tropical</text>
<rect x="1358.26" y="1714.00" width="1.11" height="4.86" fill="#000"/>
<text class="xl" transform="translate(1355.51 1735.72) rotate(-45)" x="0" y="0">JJA South Midlat</text>
<text class="t" x="872.60" y="26.20">GLOBAL MEAN ClimateDT ca03 1990 2001</text>
<g shape-rendering="crispEdges">
<rect x="1469.10" y="1250.20" width="41.90" height="42.60" fill="#3f75bc"/>
<rect x="1469.10" y="1210.89" width="41.90" height="39.32" fill="#5782bc"/>
<rect x="1469.10" y="1171.57" width="41.90" height="39.32" fill="#6a8dbf"/>
<rect x="1469.10" y="1132.25" width="41.90" height="39.32" fill="#7e9ac2"/>
<rect x="1469.10" y="1092.93" width="41.90" height="39.32" fill="#92a7c8"/>
<rect x="1469.10" y="1053.61" width="41.90" height="39.32" fill="#a3b4cd"/>
<rect x="1469.10" y="1014.29" width="41.90" height="39.32" fill="#b7c2d5"/>
<rect x="1469.10" y="971.70" width="41.90" height="42.60" fill="#cad0dd"/>
<rect x="1469.10" y="932.38" width="41.90" height="39.32" fill="#dcdee6"/>
<rect x="1469.10" y="893.06" width="41.90" height="39.32" fill="#efeef1"/>
<rect x="1469.10" y="853.74" width="41.90" height="39.32" fill="#faf5f4"/>
<rect x="1469.10" y="814.42" width="41.90" height="39.32" fill="#f7eae8"/>
<rect x="1469.10" y="775.10" width="41.90" height="39.32" fill="#eed7d5"/>
<rect x="1469.10" y="735.78" width="41.90" height="39.32" fill="#e6c5c3"/>
<rect x="1469.10" y="693.19" width="41.90" height="42.60" fill="#deb2b0"/>
<rect x="1469.10" y="653.87" width="41.90" height="39.32" fill="#d7a09d"/>
<rect x="1469.10" y="614.55" width="41.90" height="39.32" fill="#d08f8d"/>
<rect x="1469.10" y="575.23" width="41.90" height="39.32" fill="#c87e7b"/>
<rect x="1469.10" y="535.91" width="41.90" height="39.32" fill="#c16c6a"/>
<rect x="1469.10" y="496.60" width="41.90" height="39.32" fill="#b95b5a"/>
<rect x="1469.10" y="454.00" width="41.90" height="42.60" fill="#b1494a"/>
</g>
<rect x="1511.00" y="474.35" width="4.86" height="1.11" fill="#000"/>
<text class="cb" x="1520.72" y="482.80">10</text>
<rect x="1511.00" y="514.33" width="4.86" height="1.11" fill="#000"/>
<text class="cb" x="1520.72" y="522.77">9</text>
<rect x="1511.00" y="554.30" width="4.86" height="1.11" fill="#000"/>
<text class="cb" x="1520.72" y="562.75">8</text>
<rect x="1511.00" y="594.28" width="4.86" height="1.11" fill="#000"/>
<text class="cb" x="1520.72" y="602.73">7</text>
<rect x="1511.00" y="634.25" width="4.86" height="1.11" fill="#000"/>
<text class="cb" x="1520.72" y="642.70">6</text>
<rect x="1511.00" y="674.23" width="4.86" height="1.11" fill="#000"/>
<text class="cb" x="1520.72" y="682.67">5</text>
<rect x="1511.00" y="714.20" width="4.86" height="1.11" fill="#000"/>
<text class="cb" x="1520.72" y="722.65">4</text>
<rect x="1511.00" y="754.17" width="4.86" height="1.11" fill="#000"/>
<text class="cb" x="1520.72" y="762.62">3</text>
<rect x="1511.00" y="794.15" width="4.86" height="1.11" fill="#000"/>
<text class="cb" x="1520.72" y="802.60">2</text>
<rect x="1511.00" y="834.12" width="4.86" height="1.11" fill="#000"/>
<text class="cb" x="1520.72" y="842.57">1</text>
<rect x="1511.00" y="874.10" width="4.86" height="1.11" fill="#000"/>
<text class="cb" x="1520.72" y="882.55">0</text>
<rect x="1511.00" y="914.08" width="4.86" height="1.11" fill="#000"/>
<text class="cb" x="1520.72" y="922.52">−1</text>
<rect x="1511.00" y="954.05" width="4.86" height="1.11" fill="#000"/>
<text class="cb" x="1520.72" y="962.50">−2</text>
<rect x="1511.00" y="994.03" width="4.86" height="1.11" fill="#000"/>
<text class="cb" x="1520.72" y="1002.48">−3</text>
<rect x="1511.00" y="1034.00" width="4.86" height="1.11" fill="#000"/>
<text class="cb" x="1520.72" y="1042.45">−4</text>
<rect x="1511.00" y="1073.98" width="4.86" height="1.11" fill="#000"/>
<text class="cb" x="1520.72" y="1082.43">−5</text>
<rect x="1511.00" y="1113.95" width="4.86" height="1.11" fill="#000"/>
<text class="cb" x="1520.72" y="1122.40">−6</text>
<rect x="1511.00" y="1153.92" width="4.86" height="1.11" fill="#000"/>
<text class="cb" x="1520.72" y="1162.38">−7</text>
<rect x="1511.00" y="1193.90" width="4.86" height="1.11" fill="#000"/>
<text class="cb" x="1520.72" y="1202.35">−8</text>
<rect x="1511.00" y="1233.88" width="4.86" height="1.11" fill="#000"/>
<text class="cb" x="1520.72" y="1242.33">−9</text>
<rect x="1511.00" y="1273.85" width="4.86" height="1.11" fill="#000"/>
<text class="cb" x="1520.72" y="1282.30">−10</text>
<text class="cl" transform="translate(1586.20 878.00) rotate(-90)" x="0" y="0">Model Bias</text>
<text class="cl" transform="translate(1609.80 870.60) rotate(-90)" x="0" y="0">(standard deviation of interannual variability from observations)</text>
</svg></body></html>
